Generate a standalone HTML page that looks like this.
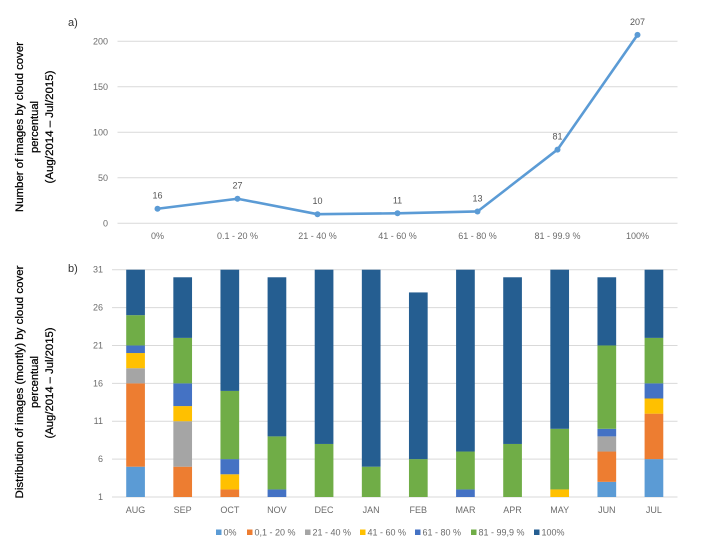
<!DOCTYPE html>
<html lang="en">
<head>
<meta charset="utf-8">
<title>Cloud cover charts</title>
<style>
html,body{margin:0;padding:0;background:#fff;}
#figure{display:block;width:704px;height:548px;font-family:"Liberation Sans",sans-serif;filter:blur(0.25px);}
.tick{font-size:9px;fill:#6b6b6b;}
.title{font-size:11px;fill:#000;stroke:#000;stroke-width:0.25px;text-anchor:middle;}
.panel{font-size:11px;fill:#333;}
</style>
</head>
<body>
<svg id="figure" xmlns="http://www.w3.org/2000/svg" width="704" height="548" viewBox="0 0 704 548">
  <rect width="704" height="548" fill="#fff"/>
  <text class="panel" x="68" y="26">a)</text>
  <text class="panel" x="68" y="272">b)</text>

  <g>
    <text class="title" transform="translate(23,127) rotate(-90)" textLength="170" lengthAdjust="spacingAndGlyphs">Number of images  by cloud cover</text>
    <text class="title" transform="translate(38,127) rotate(-90)" textLength="52" lengthAdjust="spacingAndGlyphs">percentual</text>
    <text class="title" transform="translate(53,127) rotate(-90)" textLength="113" lengthAdjust="spacingAndGlyphs">(Aug/2014 – Jul/2015)</text>
  </g>
  <g>
    <text class="title" transform="translate(23,382) rotate(-90)" textLength="233" lengthAdjust="spacingAndGlyphs">Distribution of images (montly) by cloud cover</text>
    <text class="title" transform="translate(38,382) rotate(-90)" textLength="52" lengthAdjust="spacingAndGlyphs">percentual</text>
    <text class="title" transform="translate(53,383) rotate(-90)" textLength="111" lengthAdjust="spacingAndGlyphs">(Aug/2014 – Jul/2015)</text>
  </g>

  <g id="line-chart"></g>
  <g id="bar-chart"></g>
  <g id="legend"></g>
</svg>
<script>
// Chart (a) data
const lineCategories = ['0%', '0.1 - 20 %', '21 - 40 %', '41 - 60 %', '61 - 80 %', '81 - 99.9 %', '100%'];
const lineValues = [16, 27, 10, 11, 13, 81, 207];
const lineTicks = [0, 50, 100, 150, 200];

// Chart (b) data
const months = ['AUG', 'SEP', 'OCT', 'NOV', 'DEC', 'JAN', 'FEB', 'MAR', 'APR', 'MAY', 'JUN', 'JUL'];
const seriesNames = ['0%', '0,1 - 20 %', '21 - 40 %', '41 - 60 %', '61 - 80 %', '81 - 99,9 %', '100%'];
const seriesColors = ['#5b9bd5', '#ed7d31', '#a5a5a5', '#ffc000', '#4472c4', '#70ad47', '#255e91'];
const cover0 = [5, 0, 0, 0, 0, 0, 0, 0, 0, 0, 3, 6];
const cover20 = [11, 5, 2, 0, 0, 0, 0, 0, 0, 0, 4, 6];
const cover40 = [2, 6, 0, 0, 0, 0, 0, 0, 0, 0, 2, 0];
const cover60 = [2, 2, 2, 0, 0, 0, 0, 0, 0, 2, 0, 2];
const cover80 = [1, 3, 2, 2, 0, 0, 0, 2, 0, 0, 1, 2];
const cover99 = [4, 6, 9, 7, 8, 5, 6, 5, 8, 8, 11, 6];
const cover100 = [6, 8, 16, 21, 23, 26, 22, 24, 22, 21, 9, 9];
const barTicks = [1, 6, 11, 16, 21, 26, 31];

const NS = 'http://www.w3.org/2000/svg';
function make(parent, tag, attrs, text) {
  const el = document.createElementNS(NS, tag);
  for (const k in attrs) el.setAttribute(k, attrs[k]);
  if (text !== undefined) el.textContent = text;
  parent.appendChild(el);
  return el;
}

// ---- Line chart ----
const lineRoot = document.getElementById('line-chart');
const lineLeft = 117.5, lineRight = 677.5;
const lineY = v => 223.3 - v * (223.3 - 41.3) / 200;
const lineX = i => lineLeft + (i + 0.5) * (lineRight - lineLeft) / lineCategories.length;

lineTicks.forEach(t => {
  const grid = make(lineRoot, 'line', {x1: lineLeft, x2: lineRight, y1: lineY(t), y2: lineY(t), stroke: '#d9d9d9', 'stroke-width': 1});
  
  
  const label = make(lineRoot, 'text', {class: 'tick', x: 108, y: lineY(t) + 3, 'text-anchor': 'end'}, t);
  
  
});

lineCategories.forEach((c, i) => {
  const label = make(lineRoot, 'text', {class: 'tick', x: lineX(i), y: 239, 'text-anchor': 'middle'}, c);
  
  
});

const linePath = make(lineRoot, 'polyline', {
  points: lineValues.map((v, i) => lineX(i) + ',' + lineY(v)).join(' '),
  fill: 'none', stroke: '#5b9bd5', 'stroke-width': 2.6, 'stroke-linejoin': 'round'
});



lineValues.forEach((v, i) => {
  const dot = make(lineRoot, 'circle', {cx: lineX(i), cy: lineY(v), r: 3, fill: '#5b9bd5'});
  
  
  const value = make(lineRoot, 'text', {class: 'tick', x: lineX(i), y: lineY(v) - 10, 'text-anchor': 'middle', style: 'fill:#555'}, v);
  
  
});

// ---- Stacked bar chart ----
const barRoot = document.getElementById('bar-chart');
const barLeft = 112, barRight = 677.5, barWidth = 18.7;
const barSeries = [cover0, cover20, cover40, cover60, cover80, cover99, cover100];
const barY = v => 497 - (v - 1) * (497 - 269.7) / 30;
const barX = i => barLeft + (i + 0.5) * (barRight - barLeft) / months.length;

barTicks.forEach(t => {
  const grid = make(barRoot, 'line', {x1: barLeft, x2: barRight, y1: barY(t), y2: barY(t), stroke: '#d9d9d9', 'stroke-width': 1});
  
  
  const label = make(barRoot, 'text', {class: 'tick', x: 103, y: barY(t) + 3, 'text-anchor': 'end'}, t);
  
  
});

months.forEach((m, i) => {
  let total = 0;
  barSeries.forEach((series, s) => {
    const value = series[i];
    if (value > 0) {
      const bottom = Math.max(total, 1);
      const top = total + value;
      const seg = make(barRoot, 'rect', {
        x: barX(i) - barWidth / 2, y: barY(top), width: barWidth,
        height: barY(bottom) - barY(top), fill: seriesColors[s]
      });
      
      
    }
    total += value;
  });
  const label = make(barRoot, 'text', {class: 'tick', x: barX(i), y: 513, 'text-anchor': 'middle'}, m);
  
  
});

// ---- Legend ----
const legendRoot = document.getElementById('legend');
let legendCursor = 216;
const legendGaps = [31, 58, 55, 55, 56, 63, 0];
seriesNames.forEach((name, s) => {
  const swatch = make(legendRoot, 'rect', {x: legendCursor, y: 529.5, width: 5.5, height: 5.5, fill: seriesColors[s]});
  
  
  const label = make(legendRoot, 'text', {class: 'tick', x: legendCursor + 7.5, y: 535.5}, name);
  
  
  legendCursor += legendGaps[s];
});
</script>
</body>
</html>
